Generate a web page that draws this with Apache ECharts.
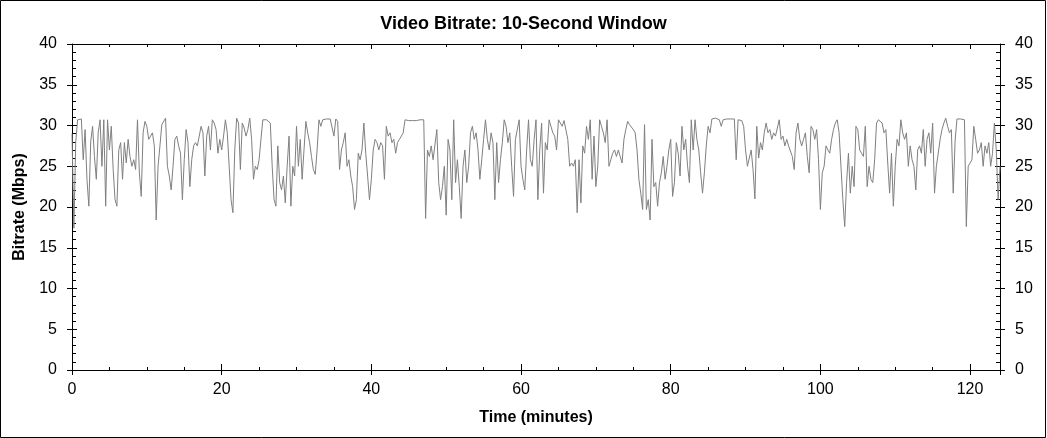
<!DOCTYPE html>
<html><head><meta charset="utf-8">
<script src="https://cdn.jsdelivr.net/npm/echarts@6/dist/echarts.min.js"></script>
<style>html,body{margin:0;padding:0;background:#fff}#c{width:1047px;height:438px}</style>
</head><body><div id="c"></div>
<script>
// Bitrate samples (Mbps), every 0.25 minute, grouped by 10-minute block
const step = 0.25;
const segStarts = [0, 10, 20, 30, 40, 50, 60, 70, 80, 90, 100, 110];
const seg00 = [29.0,17.4,28.0,30.7,30.8,30.8,25.8,29.5,23.4,20.1,28.0,29.9,26.2,23.4,29.1,30.7,25.0,30.7,20.1,30.7,27.0,29.9,24.6,20.9,20.1,27.0,27.9,23.4,27.9,25.4,28.3,26.2,25.0,25.8,24.6,30.7,24.2,21.3,29.1,30.5];
const seg10 = [29.9,28.3,28.7,29.1,27.5,18.4,25.0,27.5,30.1,29.9,30.9,25.0,23.8,22.1,25.0,28.3,28.7,27.5,26.6,20.9,25.8,29.5,27.9,22.5,25.8,27.5,27.9,27.5,27.5,29.9,29.1,23.8,28.7,29.9,27.0,30.7,30.3,29.5,26.6,28.3];
const seg20 = [27.0,28.7,30.7,29.1,25.0,20.9,19.3,27.0,30.9,30.3,24.6,30.3,29.7,28.7,29.5,30.9,28.3,23.4,25.0,24.6,25.8,28.3,30.7,30.9,30.7,30.8,30.3,25.0,20.9,20.1,27.5,23.0,22.1,23.8,20.5,25.0,28.7,20.1,25.0,23.8];
const seg30 = [29.9,25.0,28.3,23.4,27.0,30.5,29.1,27.9,26.2,24.6,24.0,27.0,30.7,29.9,30.7,30.8,30.8,30.9,30.8,30.7,28.7,30.8,30.5,24.6,27.0,27.9,29.1,25.0,25.8,23.8,22.5,19.7,20.9,26.6,25.8,27.0,30.3,26.6,23.8,20.9];
const seg40 = [23.4,27.0,28.3,27.9,27.0,27.9,27.5,23.4,29.9,28.7,29.1,27.9,28.3,26.6,27.9,28.3,28.7,29.1,30.7,30.8,30.6,30.7,30.6,30.7,30.6,30.7,30.7,30.8,30.7,18.6,27.0,26.2,27.5,25.8,25.6,29.5,23.0,20.9,22.5,25.0];
const seg50 = [19.0,28.3,27.0,20.9,30.7,23.0,25.8,22.5,18.6,25.0,27.0,23.0,25.0,29.1,29.9,28.3,29.1,27.0,23.4,25.8,28.3,30.7,28.3,27.0,29.1,27.9,20.9,27.9,23.0,25.8,27.9,30.7,29.9,27.9,29.1,25.0,21.3,28.3,29.5,30.7];
const seg60 = [25.0,23.4,22.1,27.0,30.7,25.8,25.0,28.3,30.7,20.9,27.0,30.3,21.7,27.9,27.0,30.7,29.9,29.1,28.7,27.0,30.7,30.5,29.9,30.6,30.7,28.3,25.0,25.4,25.0,25.8,19.3,25.8,20.5,27.5,26.6,29.9,28.3,30.7,23.4,28.7];
const seg70 = [22.5,25.0,30.7,29.9,29.1,27.9,30.7,25.0,25.8,26.6,27.0,26.2,27.0,26.2,25.4,28.3,29.5,30.5,30.1,29.9,29.5,29.1,27.0,23.4,21.7,19.7,30.1,19.7,20.9,18.4,28.3,22.5,23.0,20.1,23.0,24.2,26.2,23.4,25.0,27.0];
const seg80 = [28.3,21.3,23.0,27.9,26.6,23.8,29.9,27.0,28.3,25.0,23.0,30.7,27.0,30.7,28.3,27.0,24.2,21.7,24.2,27.5,29.9,29.1,30.8,30.9,30.9,30.8,30.7,29.9,30.7,30.8,30.8,30.7,30.8,30.7,30.8,25.8,30.7,30.7,30.6,29.9];
const seg90 = [27.0,25.0,25.0,27.0,24.6,21.0,29.9,26.0,27.9,27.0,29.1,30.3,29.1,29.5,28.3,29.1,28.7,28.7,30.7,28.3,28.7,27.5,28.3,27.5,27.5,26.2,24.6,29.1,30.3,28.3,27.5,28.3,29.1,26.2,24.2,29.9,29.5,28.3,29.5,25.8];
const seg100 = [19.7,24.2,25.0,27.5,27.0,26.6,28.3,29.5,30.3,30.7,29.1,25.0,20.9,17.6,23.0,26.6,21.7,25.0,22.5,29.9,29.5,27.0,26.6,26.2,29.9,22.5,25.0,23.4,23.0,25.8,30.3,30.7,30.5,30.3,29.1,29.5,25.4,21.7,26.6,20.1];
const seg110 = [25.0,28.3,27.5,30.7,29.1,28.3,29.1,25.0,27.5,25.8,25.0,22.1,27.0,27.5,26.6,29.5,25.0,28.3,29.1,26.6,30.3,21.7,25.0,26.6,28.3,29.5,30.3,30.9,29.9,29.1,29.5,21.7,28.1,30.8,30.9,30.8,30.8,30.7,17.6,25.0,25.4,25.8,29.9,28.3,26.6,27.0,27.9,25.0,27.5,26.6,27.9,25.0,26.6,30.3,27.0,20.9,25.0];
const segments = [seg00, seg10, seg20, seg30, seg40, seg50, seg60, seg70, seg80, seg90, seg100, seg110];

// Axis ticks
const xMax = 124, xMajor = 20, xMinor = 5;
const yMax = 40, yMajor = 5;

const points = [];
segments.forEach((seg, s) => seg.forEach((v, i) => points.push([segStarts[s] + i * step, v])));

const FONT = 'Liberation Sans, Arial, Helvetica, sans-serif';
const black = '#000';

function xAx(pos, o) {
  return Object.assign({
    type: 'value', position: pos, min: 0, max: xMax, interval: xMajor,
    splitLine: { show: false },
    axisLine: { show: false, onZero: false },
    axisTick: { show: false },
    axisLabel: { show: false },
    minorTick: { show: false }
  }, o);
}
function yAx(pos, o) {
  return Object.assign({
    type: 'value', position: pos, min: 0, max: yMax, interval: yMajor,
    splitLine: { show: false },
    axisLine: { show: false, onZero: false },
    axisTick: { show: false },
    axisLabel: { show: false },
    minorTick: { show: false }
  }, o);
}
const lineSt = { show: true, onZero: false, lineStyle: { color: black, width: 1 } };
const tickSt = (inside, len) => ({ show: true, inside: inside, length: len, lineStyle: { color: black, width: 1 } });
const labelSt = (m) => ({ show: true, margin: m, color: black, fontSize: 16, fontFamily: FONT,
  formatter: v => (v % 5 === 0 && v <= 120) ? String(v) : '' });

const chart = echarts.init(document.getElementById('c'), null, { renderer: 'canvas' });
chart.setOption({
  animation: false,
  backgroundColor: '#fff',
  title: {
    text: 'Video Bitrate: 10-Second Window', left: 'center', top: 10,
    textStyle: { fontSize: 18, fontWeight: 'bold', color: black, fontFamily: FONT }
  },
  grid: { left: 72, right: 47, top: 44, bottom: 68, containLabel: false },
  xAxis: [
    xAx('bottom', { axisLine: lineSt, axisTick: tickSt(false, 5),
      axisLabel: Object.assign(labelSt(12), { formatter: v => (v % xMajor === 0) ? String(v) : '' }),
      name: 'Time (minutes)', nameLocation: 'middle', nameGap: 40,
      nameTextStyle: { fontSize: 16, fontWeight: 'bold', color: black, fontFamily: FONT } }),
    xAx('bottom', { axisTick: tickSt(true, 6) }),
    xAx('bottom', { interval: xMinor, axisTick: tickSt(true, 3) }),
    xAx('top', { axisLine: lineSt, axisTick: tickSt(true, 5) }),
    xAx('top', { interval: xMinor, axisTick: tickSt(true, 3) })
  ],
  yAxis: [
    yAx('left', { axisLine: lineSt, axisTick: tickSt(false, 5), axisLabel: labelSt(15),
      name: 'Bitrate (Mbps)', nameLocation: 'middle', nameGap: 44,
      nameTextStyle: { fontSize: 16, fontWeight: 'bold', color: black, fontFamily: FONT } }),
    yAx('left', { axisTick: tickSt(true, 5), minorTick: { show: true, splitNumber: 5, length: 4, lineStyle: { color: black, width: 1 } } }),
    yAx('right', { axisLine: lineSt, axisTick: tickSt(false, 5), axisLabel: labelSt(15) }),
    yAx('right', { axisTick: tickSt(true, 5), minorTick: { show: true, splitNumber: 5, length: 4, lineStyle: { color: black, width: 1 } } })
  ],
  series: [{
    type: 'line', xAxisIndex: 0, yAxisIndex: 0, data: points,
    showSymbol: false, symbol: 'none', sampling: null,
    lineStyle: { color: '#808080', width: 1 }, z: 1
  }],
  graphic: [{
    type: 'rect', silent: true, z: 100,
    shape: { x: 0.5, y: 0.5, width: 1045, height: 437 },
    style: { fill: null, stroke: black, lineWidth: 1 }
  }]
});
</script></body></html>
